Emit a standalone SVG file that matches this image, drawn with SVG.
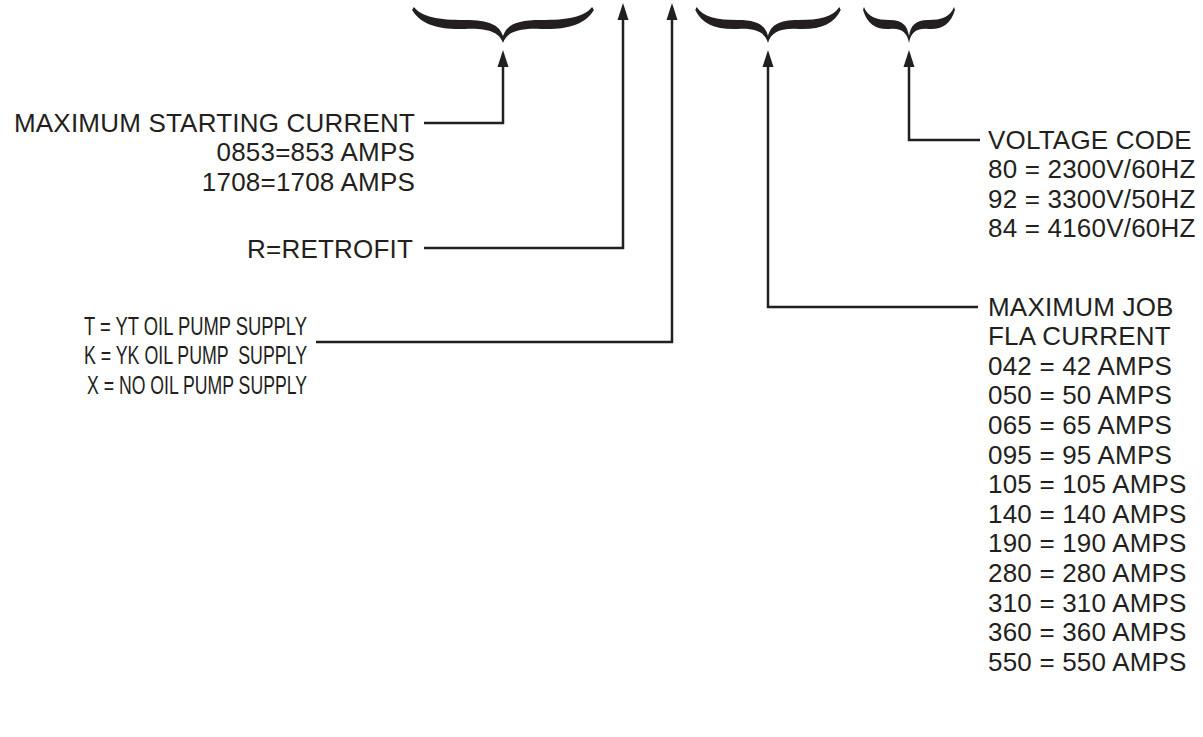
<svg xmlns="http://www.w3.org/2000/svg" xmlns:xlink="http://www.w3.org/1999/xlink" width="1203" height="737" viewBox="0 0 1203 737">
<style>
  text { font-family: "Liberation Sans", Arial, sans-serif; font-size: 26px; fill: #231f20; letter-spacing: 0.2px; white-space: pre; }
  .end { text-anchor: end; }
  .narrow { letter-spacing: 0; }
  .conn { fill: none; stroke: #231f20; stroke-width: 2.5; marker-end: url(#arrow); }
  .brace { fill: #231f20; }
</style>
<defs>
  <marker id="arrow" markerUnits="userSpaceOnUse" markerWidth="20" markerHeight="14" viewBox="0 -7 20 14" refX="7" refY="0" orient="auto">
    <path d="M0,-5.5 L17,0 L0,5.5 Z" fill="#231f20"/>
  </marker>
  <!-- unit brace: half-width 100, centred at x=0 -->
  <path id="brace" d="M-101,10 C-92,24 -72,30 -42,29 C-15,28 -4,33 0,43 C4,33 15,28 42,29 C72,30 92,24 101,10 L99,7 C90,17 72,20 42,20 C15,20 4,25 0,36 C-4,25 -15,20 -42,20 C-72,20 -90,17 -99,7 Z"/>
</defs>

<g id="brace-starting-current"><use xlink:href="#brace" class="brace" transform="translate(503,0) scale(0.9,1)"/></g>
<g id="brace-job-fla"><use xlink:href="#brace" class="brace" transform="translate(768,0) scale(0.72,1)"/></g>
<g id="brace-voltage"><use xlink:href="#brace" class="brace" transform="translate(909,0) scale(0.455,1)"/></g>

<g id="connectors">
  <path class="conn" d="M424,123 H503 V60"/>
  <path class="conn" d="M424,248 H623 V13"/>
  <path class="conn" d="M316,342 H672 V13"/>
  <path class="conn" d="M978,307 H768 V60"/>
  <path class="conn" d="M980,140 H909 V60"/>
</g>

<g id="node-starting-current">
  <text class="end" x="415" y="131.5">MAXIMUM STARTING CURRENT</text>
  <text class="end" x="415" y="161">0853=853 AMPS</text>
  <text class="end" x="415" y="190.5">1708=1708 AMPS</text>
</g>

<g id="node-retrofit">
  <text class="end" x="413" y="257.5">R=RETROFIT</text>
</g>

<g id="node-oil-pump">
  <text class="end narrow" x="307" y="334.5" textLength="223" lengthAdjust="spacingAndGlyphs">T = YT OIL PUMP SUPPLY</text>
  <text class="end narrow" x="307" y="364" textLength="223" lengthAdjust="spacingAndGlyphs">K = YK OIL PUMP  SUPPLY</text>
  <text class="end narrow" x="307" y="393.5" textLength="220" lengthAdjust="spacingAndGlyphs">X = NO OIL PUMP SUPPLY</text>
</g>

<g id="node-voltage">
  <text x="988" y="148.5">VOLTAGE CODE</text>
  <text x="988" y="178">80 = 2300V/60HZ</text>
  <text x="988" y="207.5">92 = 3300V/50HZ</text>
  <text x="988" y="237">84 = 4160V/60HZ</text>
</g>

<g id="node-fla">
  <text x="988" y="315.5">MAXIMUM JOB</text>
  <text x="988" y="345.1">FLA CURRENT</text>
  <text x="988" y="374.7">042 = 42 AMPS</text>
  <text x="988" y="404.3">050 = 50 AMPS</text>
  <text x="988" y="433.9">065 = 65 AMPS</text>
  <text x="988" y="463.5">095 = 95 AMPS</text>
  <text x="988" y="493.1">105 = 105 AMPS</text>
  <text x="988" y="522.7">140 = 140 AMPS</text>
  <text x="988" y="552.3">190 = 190 AMPS</text>
  <text x="988" y="581.9">280 = 280 AMPS</text>
  <text x="988" y="611.5">310 = 310 AMPS</text>
  <text x="988" y="641.1">360 = 360 AMPS</text>
  <text x="988" y="670.7">550 = 550 AMPS</text>
</g>
</svg>
